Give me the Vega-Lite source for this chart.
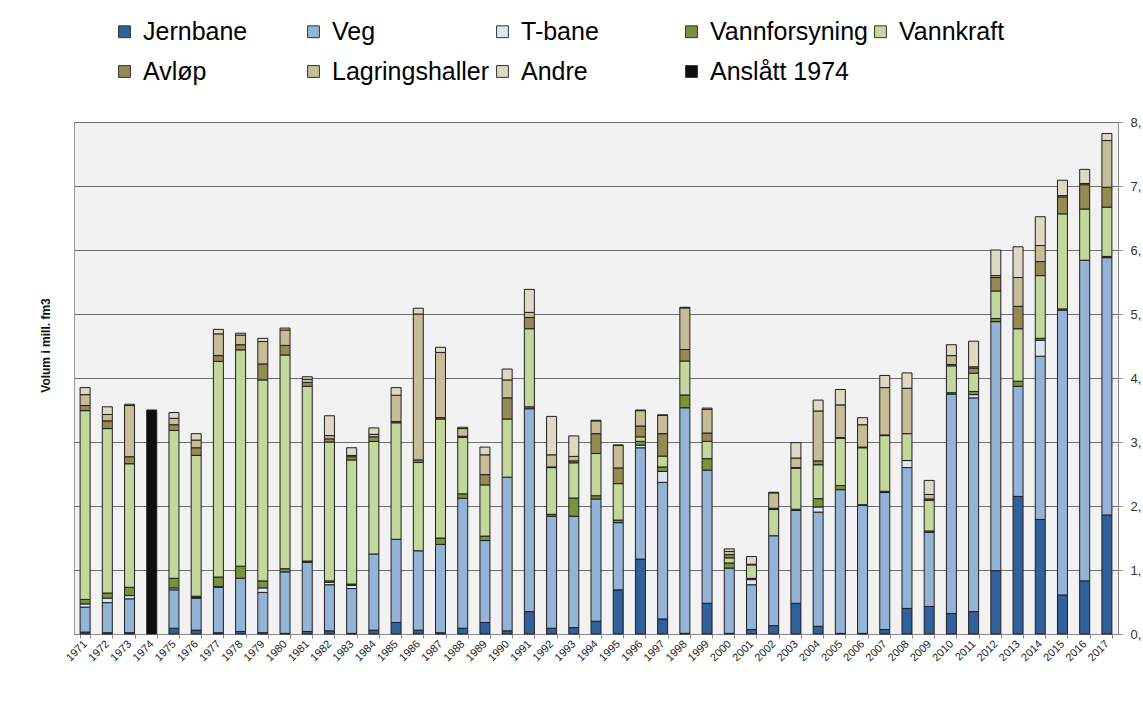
{
  "$schema": "https://vega.github.io/schema/vega-lite/v6.json",
  "autosize": {"type": "none"},
  "width": 1044,
  "height": 512,
  "padding": {"left": 74, "top": 122, "right": 25, "bottom": 73},
  "background": "white",
  "config": {
    "font": "Liberation Sans",
    "view": {"fill": "#f2f2f2", "stroke": "#9a9a9a", "strokeWidth": 1}
  },
  "datasets": {
    "rekke": [
      {"kategori": "Jernbane", "nr": 1},
      {"kategori": "Veg", "nr": 2},
      {"kategori": "T-bane", "nr": 3},
      {"kategori": "Vannforsyning", "nr": 4},
      {"kategori": "Vannkraft", "nr": 5},
      {"kategori": "Avløp", "nr": 6},
      {"kategori": "Lagringshaller", "nr": 7},
      {"kategori": "Andre", "nr": 8},
      {"kategori": "Anslått 1974", "nr": 9}
    ]
  },
  "data": {
    "values": [
      {"year": "1971", "Jernbane": 0.03, "Veg": 0.39, "T-bane": 0.05, "Vannforsyning": 0.07, "Vannkraft": 2.95, "Avløp": 0.08, "Lagringshaller": 0.17, "Andre": 0.11},
      {"year": "1972", "Jernbane": 0.02, "Veg": 0.47, "T-bane": 0.07, "Vannforsyning": 0.08, "Vannkraft": 2.57, "Avløp": 0.12, "Lagringshaller": 0.10, "Andre": 0.12},
      {"year": "1973", "Jernbane": 0.02, "Veg": 0.53, "T-bane": 0.05, "Vannforsyning": 0.13, "Vannkraft": 1.93, "Avløp": 0.11, "Lagringshaller": 0.80, "Andre": 0.02},
      {"year": "1974", "Anslått 1974": 3.5},
      {"year": "1975", "Jernbane": 0.09, "Veg": 0.60, "T-bane": 0.03, "Vannforsyning": 0.15, "Vannkraft": 2.31, "Avløp": 0.09, "Lagringshaller": 0.10, "Andre": 0.09},
      {"year": "1976", "Jernbane": 0.06, "Veg": 0.50, "T-bane": 0.01, "Vannforsyning": 0.02, "Vannkraft": 2.20, "Avløp": 0.12, "Lagringshaller": 0.12, "Andre": 0.10},
      {"year": "1977", "Jernbane": 0.02, "Veg": 0.71, "T-bane": 0.01, "Vannforsyning": 0.15, "Vannkraft": 3.37, "Avløp": 0.09, "Lagringshaller": 0.34, "Andre": 0.07},
      {"year": "1978", "Jernbane": 0.04, "Veg": 0.83, "Vannforsyning": 0.19, "Vannkraft": 3.38, "Avløp": 0.08, "Lagringshaller": 0.15, "Andre": 0.03},
      {"year": "1979", "Jernbane": 0.02, "Veg": 0.63, "T-bane": 0.07, "Vannforsyning": 0.11, "Vannkraft": 3.14, "Avløp": 0.25, "Lagringshaller": 0.35, "Andre": 0.05},
      {"year": "1980", "Jernbane": 0.01, "Veg": 0.96, "Vannforsyning": 0.05, "Vannkraft": 3.34, "Avløp": 0.15, "Lagringshaller": 0.24, "Andre": 0.03},
      {"year": "1981", "Jernbane": 0.04, "Veg": 1.08, "Vannforsyning": 0.02, "Vannkraft": 2.73, "Avløp": 0.06, "Lagringshaller": 0.05, "Andre": 0.04},
      {"year": "1982", "Jernbane": 0.05, "Veg": 0.72, "T-bane": 0.04, "Vannforsyning": 0.02, "Vannkraft": 2.17, "Avløp": 0.05, "Lagringshaller": 0.05, "Andre": 0.31},
      {"year": "1983", "Jernbane": 0.01, "Veg": 0.70, "T-bane": 0.05, "Vannforsyning": 0.02, "Vannkraft": 1.94, "Avløp": 0.05, "Lagringshaller": 0.02, "Andre": 0.12},
      {"year": "1984", "Jernbane": 0.06, "Veg": 1.19, "Vannkraft": 1.76, "Avløp": 0.07, "Lagringshaller": 0.04, "Andre": 0.10},
      {"year": "1985", "Jernbane": 0.18, "Veg": 1.30, "Vannkraft": 1.82, "Avløp": 0.02, "Lagringshaller": 0.41, "Andre": 0.12},
      {"year": "1986", "Jernbane": 0.06, "Veg": 1.24, "Vannkraft": 1.38, "Avløp": 0.04, "Lagringshaller": 2.28, "Andre": 0.09},
      {"year": "1987", "Jernbane": 0.02, "Veg": 1.38, "Vannforsyning": 0.10, "Vannkraft": 1.86, "Avløp": 0.02, "Lagringshaller": 1.02, "Andre": 0.08},
      {"year": "1988", "Jernbane": 0.09, "Veg": 2.03, "Vannforsyning": 0.07, "Vannkraft": 0.88, "Avløp": 0.02, "Lagringshaller": 0.12, "Andre": 0.02},
      {"year": "1989", "Jernbane": 0.18, "Veg": 1.28, "Vannforsyning": 0.07, "Vannkraft": 0.80, "Avløp": 0.16, "Lagringshaller": 0.31, "Andre": 0.12},
      {"year": "1990", "Jernbane": 0.05, "Veg": 2.40, "Vannkraft": 0.91, "Avløp": 0.33, "Lagringshaller": 0.28, "Andre": 0.17},
      {"year": "1991", "Jernbane": 0.35, "Veg": 3.17, "Vannforsyning": 0.03, "Vannkraft": 1.22, "Avløp": 0.175, "Lagringshaller": 0.08, "Andre": 0.36},
      {"year": "1992", "Jernbane": 0.09, "Veg": 1.75, "Vannforsyning": 0.03, "Vannkraft": 0.73, "Avløp": 0.01, "Lagringshaller": 0.19, "Andre": 0.60},
      {"year": "1993", "Jernbane": 0.10, "Veg": 1.74, "Vannforsyning": 0.285, "Vannkraft": 0.55, "Avløp": 0.03, "Lagringshaller": 0.07, "Andre": 0.32},
      {"year": "1994", "Jernbane": 0.20, "Veg": 1.91, "Vannforsyning": 0.05, "Vannkraft": 0.66, "Avløp": 0.31, "Lagringshaller": 0.20, "Andre": 0.01},
      {"year": "1995", "Jernbane": 0.69, "Veg": 1.05, "Vannforsyning": 0.04, "Vannkraft": 0.57, "Avløp": 0.245, "Lagringshaller": 0.35, "Andre": 0.01},
      {"year": "1996", "Jernbane": 1.17, "Veg": 1.74, "T-bane": 0.04, "Vannforsyning": 0.06, "Vannkraft": 0.07, "Avløp": 0.17, "Lagringshaller": 0.24, "Andre": 0.01},
      {"year": "1997", "Jernbane": 0.235, "Veg": 2.135, "T-bane": 0.17, "Vannforsyning": 0.07, "Vannkraft": 0.17, "Avløp": 0.35, "Lagringshaller": 0.285, "Andre": 0.01},
      {"year": "1998", "Jernbane": 0.01, "Veg": 3.525, "Vannforsyning": 0.20, "Vannkraft": 0.53, "Avløp": 0.18, "Lagringshaller": 0.65, "Andre": 0.01},
      {"year": "1999", "Jernbane": 0.48, "Veg": 2.08, "Vannforsyning": 0.18, "Vannkraft": 0.27, "Avløp": 0.13, "Lagringshaller": 0.37, "Andre": 0.02},
      {"year": "2000", "Jernbane": 0.01, "Veg": 1.02, "Vannforsyning": 0.08, "Vannkraft": 0.08, "Avløp": 0.05, "Lagringshaller": 0.05, "Andre": 0.04},
      {"year": "2001", "Jernbane": 0.07, "Veg": 0.70, "T-bane": 0.08, "Vannforsyning": 0.02, "Vannkraft": 0.21, "Avløp": 0.01, "Andre": 0.12},
      {"year": "2002", "Jernbane": 0.13, "Veg": 1.405, "Vannkraft": 0.41, "Avløp": 0.02, "Lagringshaller": 0.24, "Andre": 0.01},
      {"year": "2003", "Jernbane": 0.48, "Veg": 1.45, "Vannforsyning": 0.02, "Vannkraft": 0.64, "Avløp": 0.01, "Lagringshaller": 0.15, "Andre": 0.24},
      {"year": "2004", "Jernbane": 0.12, "Veg": 1.785, "T-bane": 0.08, "Vannforsyning": 0.13, "Vannkraft": 0.53, "Avløp": 0.06, "Lagringshaller": 0.78, "Andre": 0.17},
      {"year": "2005", "Jernbane": 0.01, "Veg": 2.245, "Vannforsyning": 0.065, "Vannkraft": 0.74, "Avløp": 0.01, "Lagringshaller": 0.51, "Andre": 0.24},
      {"year": "2006", "Jernbane": 0.01, "Veg": 2.0, "Vannforsyning": 0.01, "Vannkraft": 0.89, "Avløp": 0.01, "Lagringshaller": 0.35, "Andre": 0.11},
      {"year": "2007", "Jernbane": 0.07, "Veg": 2.14, "Vannforsyning": 0.02, "Vannkraft": 0.87, "Avløp": 0.01, "Lagringshaller": 0.74, "Andre": 0.19},
      {"year": "2008", "Jernbane": 0.40, "Veg": 2.20, "T-bane": 0.11, "Vannkraft": 0.42, "Lagringshaller": 0.71, "Andre": 0.24},
      {"year": "2009", "Jernbane": 0.43, "Veg": 1.16, "Vannforsyning": 0.02, "Vannkraft": 0.48, "Avløp": 0.02, "Lagringshaller": 0.07, "Andre": 0.22},
      {"year": "2010", "Jernbane": 0.32, "Veg": 3.43, "Vannforsyning": 0.02, "Vannkraft": 0.42, "Avløp": 0.02, "Lagringshaller": 0.14, "Andre": 0.17},
      {"year": "2011", "Jernbane": 0.35, "Veg": 3.34, "T-bane": 0.05, "Vannforsyning": 0.05, "Vannkraft": 0.285, "Avløp": 0.08, "Lagringshaller": 0.02, "Andre": 0.40},
      {"year": "2012", "Jernbane": 0.99, "Veg": 3.89, "Vannforsyning": 0.05, "Vannkraft": 0.43, "Avløp": 0.21, "Lagringshaller": 0.03, "Andre": 0.40},
      {"year": "2013", "Jernbane": 2.15, "Veg": 1.72, "Vannforsyning": 0.08, "Vannkraft": 0.82, "Avløp": 0.35, "Lagringshaller": 0.45, "Andre": 0.48},
      {"year": "2014", "Jernbane": 1.79, "Veg": 2.55, "T-bane": 0.25, "Vannforsyning": 0.03, "Vannkraft": 0.98, "Avløp": 0.22, "Lagringshaller": 0.25, "Andre": 0.45},
      {"year": "2015", "Jernbane": 0.61, "Veg": 4.45, "Vannforsyning": 0.02, "Vannkraft": 1.485, "Avløp": 0.265, "Lagringshaller": 0.02, "Andre": 0.24},
      {"year": "2016", "Jernbane": 0.83, "Veg": 5.01, "Vannkraft": 0.80, "Avløp": 0.38, "Lagringshaller": 0.02, "Andre": 0.22},
      {"year": "2017", "Jernbane": 1.86, "Veg": 4.02, "Vannforsyning": 0.02, "Vannkraft": 0.77, "Avløp": 0.31, "Lagringshaller": 0.73, "Andre": 0.11}
    ]
  },
  "transform": [
    {"fold": ["Jernbane", "Veg", "T-bane", "Vannforsyning", "Vannkraft", "Avløp", "Lagringshaller", "Andre", "Anslått 1974"], "as": ["kategori", "volum"]},
    {"filter": "isValid(datum.volum) && datum.volum > 0"},
    {"lookup": "kategori", "from": {"data": {"name": "rekke"}, "key": "kategori", "fields": ["nr"]}}
  ],
  "mark": {"type": "bar", "stroke": "#1e1e1e", "strokeWidth": 1},
  "encoding": {
    "x": {
      "field": "year",
      "type": "ordinal",
      "scale": {"paddingInner": 0.55, "paddingOuter": 0.275},
      "axis": {
        "title": null,
        "labelAngle": -45,
        "labelAlign": "right",
        "labelBaseline": "middle",
        "labelFontSize": 11,
        "labelColor": "#222",
        "labelPadding": 4,
        "tickBand": "extent",
        "tickSize": 4,
        "tickColor": "#888",
        "domainColor": "#888",
        "grid": false
      }
    },
    "y": {
      "field": "volum",
      "type": "quantitative",
      "stack": "zero",
      "scale": {"domain": [0, 8], "nice": false},
      "axis": {
        "orient": "right",
        "values": [0, 1, 2, 3, 4, 5, 6, 7, 8],
        "labelExpr": "datum.value + ','",
        "labelFontSize": 13,
        "labelColor": "#333",
        "labelPadding": 8,
        "tickSize": 4,
        "tickColor": "#888",
        "domainColor": "#888",
        "grid": true,
        "gridColor": "#6e6e6e",
        "gridWidth": 1,
        "title": "Volum i mill. fm3",
        "titleFontSize": 12,
        "titleFontWeight": "bold",
        "titleColor": "#111",
        "titleAngle": 270,
        "titleX": -1073,
        "titleY": 223,
        "titleAlign": "center",
        "titleBaseline": "middle"
      }
    },
    "order": {"field": "nr", "type": "quantitative", "sort": "ascending"},
    "color": {
      "field": "kategori",
      "type": "nominal",
      "sort": ["Jernbane", "Veg", "T-bane", "Vannforsyning", "Vannkraft", "Avløp", "Lagringshaller", "Andre", "Anslått 1974"],
      "scale": {
        "domain": ["Jernbane", "Veg", "T-bane", "Vannforsyning", "Vannkraft", "Avløp", "Lagringshaller", "Andre", "Anslått 1974"],
        "range": ["#31609a", "#95b3d7", "#dce6f2", "#77933c", "#c3d69b", "#948a54", "#c4bd97", "#ddd9c4", "#0d0d0d"]
      },
      "legend": {
        "title": null,
        "orient": "none",
        "legendX": 38,
        "legendY": -103,
        "direction": "horizontal",
        "columns": 5,
        "gridAlign": "all",
        "columnPadding": 0,
        "rowPadding": 14,
        "padding": 0,
        "symbolType": "square",
        "symbolSize": 140,
        "symbolStrokeColor": "#333",
        "symbolStrokeWidth": 1,
        "symbolOpacity": 1,
        "labelFontSize": 25,
        "labelFont": "Liberation Sans",
        "labelColor": "#000",
        "labelOffset": 6,
        "labelLimit": 400
      }
    }
  }
}
